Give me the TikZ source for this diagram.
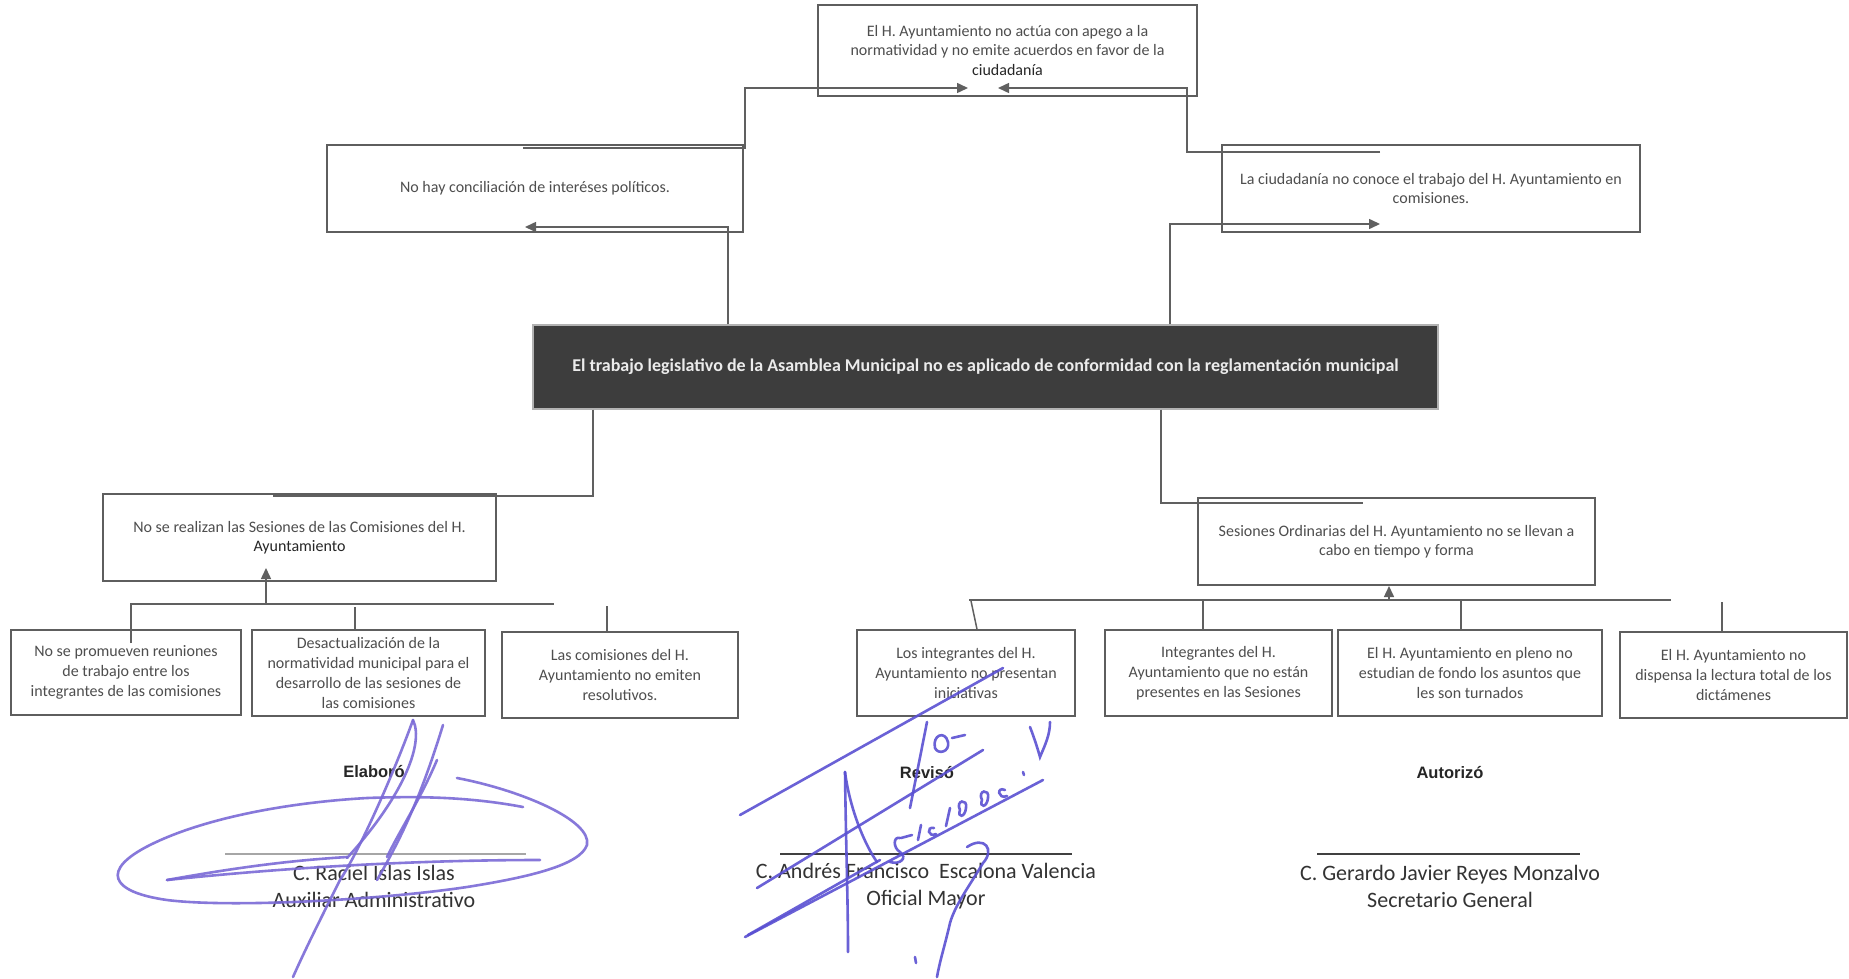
\documentclass[tikz,border=0pt]{standalone}
\usepackage{fontspec}
\setmainfont{Carlito}
\newfontfamily\arialfont{Liberation Sans}
\usetikzlibrary{arrows.meta}
\definecolor{boxgray}{HTML}{5E5E5E}
\definecolor{txtgray}{HTML}{4E4E4E}
\definecolor{darkfill}{HTML}{3D3D3D}
\definecolor{linegray}{HTML}{606060}
\definecolor{sigblue}{HTML}{5A50D2}
\definecolor{sigviolet}{HTML}{7A6AD6}
\tikzset{
  box/.style={draw=boxgray, line width=1.6pt, inner sep=0pt, align=center, text=txtgray,
    font=\fontsize{16}{19.5}\selectfont},
  sbox/.style={box, font=\fontsize{16}{19.8}\selectfont},
  conn/.style={draw=linegray, line width=1.5pt},
  arr/.style={conn, -{Triangle[length=11pt,width=10pt]}},
  sig/.style={draw=sigblue, line width=2.6pt, line cap=round, opacity=0.9},
  sigl/.style={draw=sigviolet, line width=2.6pt, line cap=round, opacity=0.9},
  sighead/.style={font=\arialfont\bfseries\fontsize{16.5}{18}\selectfont, text=black!85},
  signame/.style={font=\fontsize{22}{27}\selectfont, text=black!80, align=center}
}
\begin{document}
\begin{tikzpicture}[x=1pt,y=-1pt]
\useasboundingbox (0,0) rectangle (1849,979);
\fill[white] (0,0) rectangle (1849,979);

% boxes
\node[box, minimum width=379pt, minimum height=91pt] (top) at (1007.5,50.5)
  {El H. Ayuntamiento no actúa con apego a la\\normatividad y no emite acuerdos en favor de la\\{\color{black!85}ciudadanía}};
\node[box, minimum width=416pt, minimum height=87pt] (lft) at (535,188.5)
  {No hay conciliación de interéses políticos.};
\node[box, minimum width=418pt, minimum height=87pt] (rgt) at (1431,188.5)
  {La ciudadanía no conoce el trabajo del H. Ayuntamiento en\\comisiones.};
\node[draw=gray!60, line width=1.2pt, fill=darkfill, inner sep=0pt, minimum width=905pt, minimum height=84pt,
  text=white!92!black, font=\bfseries\fontsize{18}{20}\selectfont] (ctr) at (985.5,367)
  {El trabajo legislativo de la Asamblea Municipal no es aplicado de conformidad con la reglamentación municipal};
\node[box, minimum width=393pt, minimum height=87pt] (lmid) at (299.5,537.5)
  {No se realizan las Sesiones de las Comisiones del H.\\{\color{black!85}Ayuntamiento}};
\node[box, minimum width=397pt, minimum height=87pt] (rmid) at (1396.5,541.5)
  {Sesiones Ordinarias del H. Ayuntamiento no se llevan a\\cabo en tiempo y forma};

\node[sbox, minimum width=230pt, minimum height=85pt] (b1) at (126,672.5)
  {No se promueven reuniones\\de trabajo entre los\\integrantes de las comisiones};
\node[sbox, minimum width=233pt, minimum height=86pt] (b2) at (368.5,673)
  {Desactualización de la\\normatividad municipal para el\\desarrollo de las sesiones de\\las comisiones};
\node[sbox, minimum width=236pt, minimum height=86pt] (b3) at (620,675)
  {Las comisiones del H.\\Ayuntamiento no emiten\\resolutivos.};
\node[sbox, minimum width=218pt, minimum height=86pt] (b4) at (966,673)
  {Los integrantes del H.\\Ayuntamiento no presentan\\iniciativas};
\node[sbox, minimum width=227pt, minimum height=86pt] (b5) at (1218.5,673)
  {Integrantes del H.\\Ayuntamiento que no están\\presentes en las Sesiones};
\node[sbox, minimum width=264pt, minimum height=86pt] (b6) at (1470,673)
  {El H. Ayuntamiento en pleno no\\estudian de fondo los asuntos que\\les son turnados};
\node[sbox, minimum width=227pt, minimum height=86pt] (b7) at (1733.5,675)
  {El H. Ayuntamiento no\\dispensa la lectura total de los\\dictámenes};

% connector points
\coordinate (lA) at (523,148);
\coordinate (tA) at (968,88);
\coordinate (rA) at (1380,152);
\coordinate (tB) at (998,88);
\coordinate (lB) at (525,227);
\coordinate (rB) at (1380,224);
\coordinate (lmA) at (273,496);
\coordinate (rmA) at (1363,503);
\coordinate (b1A) at (131,643);
\coordinate (lmB) at (266,568);
\coordinate (lEnd) at (554,604);
\coordinate (rmB) at (1389,586);
\coordinate (rStart) at (969,600);
\coordinate (rEnd) at (1671,600);

% top connectors
\draw[arr] (lA) -- (745,148) -- (745,88) -- (tA);
\draw[arr] (rA) -- (1187,152) -- (1187,88) -- (tB);
\draw[arr] (ctr.north -| 728,0) -- (728,227) -- (lB);
\draw[arr] (ctr.north -| 1170,0) -- (1170,224) -- (rB);
% lower connectors
\draw[conn] (ctr.south -| 593,0) -- (593,496) -- (lmA);
\draw[conn] (ctr.south -| 1161,0) -- (1161,503) -- (rmA);
\draw[conn] (b1A) -- (131,604) -- (lEnd);
\draw[arr] (266,604) -- (lmB);
\draw[conn] (b2.north -| 355,0) -- (355,607);
\draw[conn] (b3.north -| 607,0) -- (607,606);
\draw[conn] (rStart) -- (rEnd);
\draw[arr] (1389,600) -- (rmB);
\draw[conn] (971,601) -- (b4.north -| 977,0);
\draw[conn] (1203,600) -- (b5.north -| 1203,0);
\draw[conn] (1461,600) -- (b6.north -| 1461,0);
\draw[conn] (1722,602) -- (b7.north -| 1722,0);

% signature block
\node[sighead] (h1) at (374,772) {Elaboró};
\node[sighead] (h2) at (927,773) {Revisó};
\node[sighead] (h3) at (1450,773) {Autorizó};
\draw[gray!70, line width=1.6pt] (225,854) -- (526,854);
\draw[black!75, line width=1.6pt] (780,854) -- (1072,854);
\draw[black!75, line width=1.6pt] (1317,854) -- (1580,854);
\node[signame] (n1) at (374,886) {C. Raciel Islas Islas\\Auxiliar Administrativo};
\node[signame] (n2) at (926,886) {C. Andrés Francisco\ \ Escalona Valencia\\Oficial Mayor};
\node[signame] (n3) at (1450,886) {C. Gerardo Javier Reyes Monzalvo\\Secretario General};

% signature strokes (left)
\draw[sigl] (523,807) .. controls (470,797) and (420,796) .. (367,798)
  .. controls (280,803) and (200,820) .. (150,845)
  .. controls (100,870) and (110,892) .. (167,900)
  .. controls (230,908) and (380,900) .. (467,887)
  .. controls (530,877) and (580,865) .. (587,845)
  .. controls (592,820) and (520,790) .. (457,778);
\draw[sigl] (167,880) .. controls (300,866) and (430,860) .. (540,860);
\draw[sigl] (167,880) .. controls (250,865) and (300,860) .. (347,857);
\draw[sigl] (413,720) .. controls (395,770) and (360,850) .. (340,880)
  .. controls (320,920) and (305,950) .. (293,977);
\draw[sigl] (413,720) .. controls (425,745) and (400,800) .. (347,858);
\draw[sigl] (443,725) .. controls (420,800) and (400,840) .. (377,880);
\draw[sigl] (437,760) .. controls (420,800) and (400,830) .. (387,857);
% signature strokes (middle)
\draw[sig] (740,815) -- (1003,668);
\draw[sig] (757,888) -- (983,750);
\draw[sig] (745,937) -- (1043,780);
\draw[sig] (748,935) -- (880,860);
\draw[sig] (845,772) .. controls (846,850) and (848,900) .. (848,952);
\draw[sig] (845,772) .. controls (850,810) and (865,845) .. (877,862);
\draw[sig] (910,808) -- (927,722);
\draw[sig] (935,748) .. controls (932,735) and (945,730) .. (948,742) .. controls (950,752) and (938,755) .. (935,748);
\draw[sig] (952,738) -- (965,735);
% date-like scribble
\draw[sig] (900,838) .. controls (893,836) and (893,848) .. (900,852) .. controls (908,858) and (900,865) .. (890,862);
\draw[sig] (901,838) -- (912,835);
\draw[sig] (921,825) -- (918,840);
\draw[sig] (934,828) .. controls (926,826) and (928,838) .. (936,834);
\draw[sig] (950,808) -- (946,826);
\draw[sig] (960,810) .. controls (955,800) and (968,798) .. (966,808) .. controls (965,818) and (957,818) .. (960,810);
\draw[sig] (982,800) .. controls (977,790) and (990,788) .. (988,798) .. controls (987,808) and (979,808) .. (982,800);
\draw[sig] (1005,790) .. controls (996,786) and (998,800) .. (1007,796);
\draw[sig] (1023,772) -- (1024,775);
\draw[sig] (1030,727) .. controls (1035,740) and (1038,750) .. (1040,757) .. controls (1045,745) and (1050,735) .. (1050,722);
\draw[sig] (967,847) .. controls (985,835) and (995,850) .. (983,863)
  .. controls (970,885) and (955,905) .. (950,923) .. controls (945,945) and (940,960) .. (937,977);
\draw[sig] (915,957) -- (916,963);
\end{tikzpicture}
\end{document}
